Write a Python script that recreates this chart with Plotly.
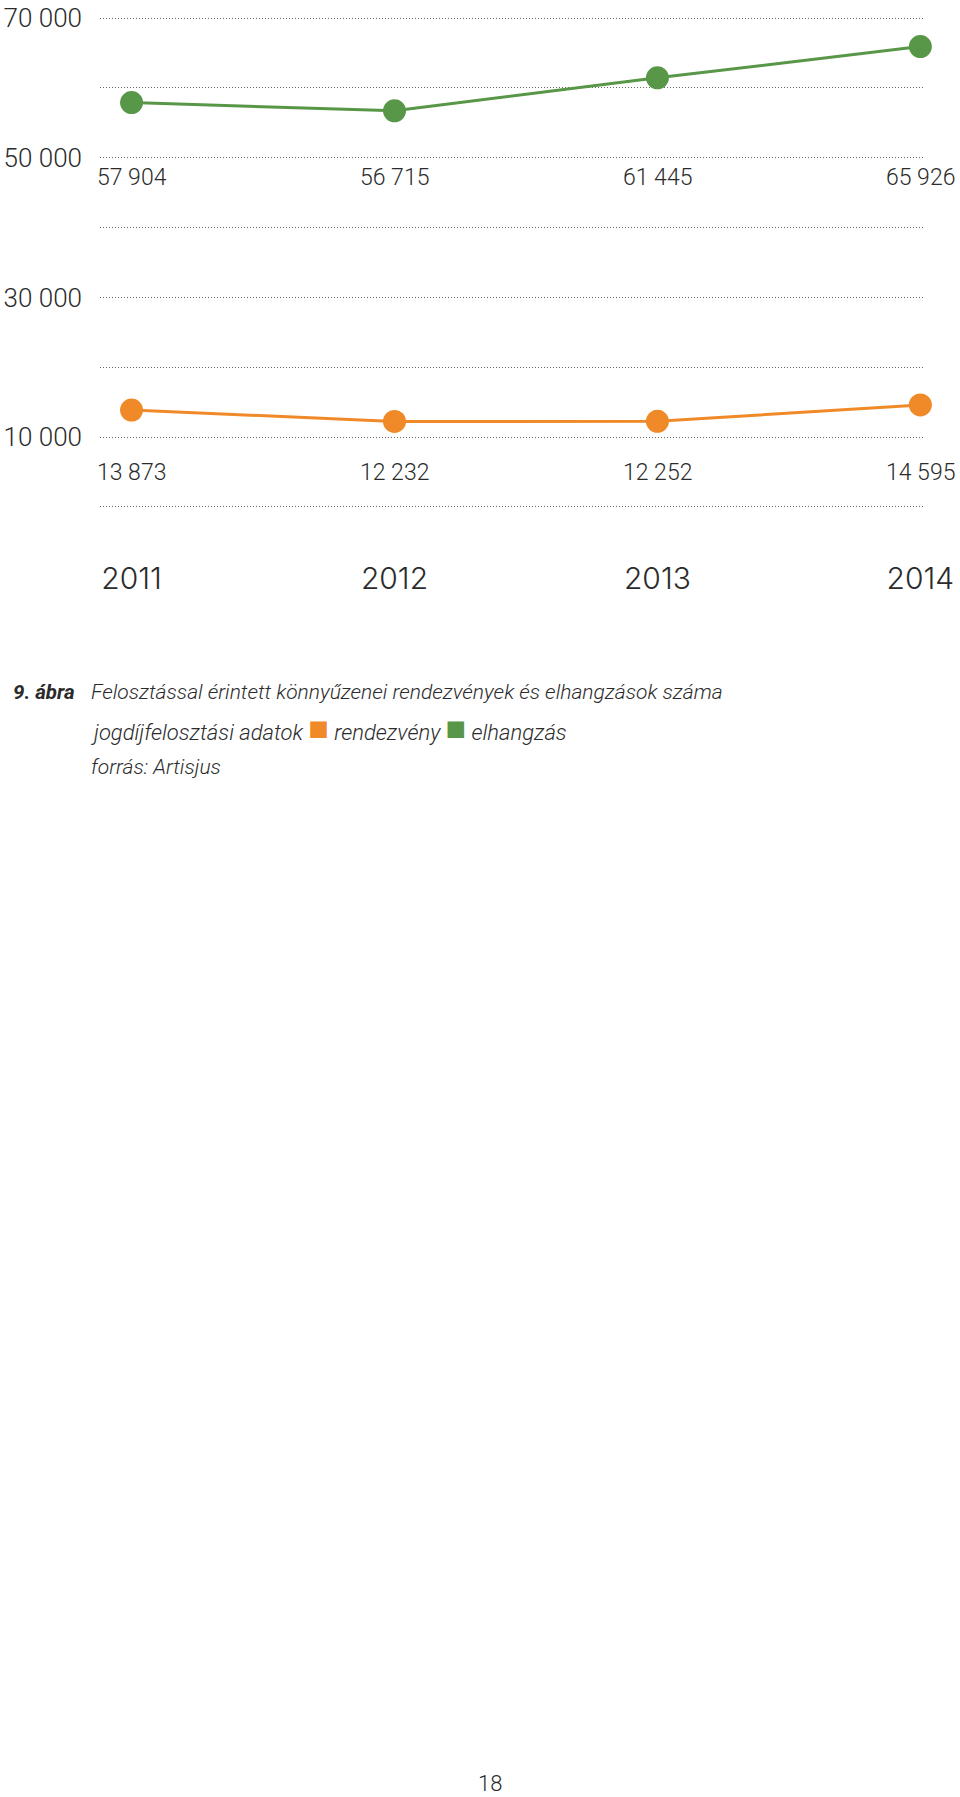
import plotly.graph_objects as go

years = ["2011", "2012", "2013", "2014"]
elhangzas = [57904, 56715, 61445, 65926]      # green series
rendezveny = [13873, 12232, 12252, 14595]     # orange series
grid_vals = [0, 10000, 20000, 30000, 40000, 50000, 60000, 70000]
grid_text = ["", "10 000", "", "30 000", "", "50 000", "", "70 000"]

GREEN = "#589648"
ORANGE = "#f08a28"
TXT = "#2b2b2b"


def fmt(v):
    return f"{v:,}".replace(",", " ")


fig = go.Figure()
fig.add_trace(go.Scatter(
    x=years, y=elhangzas, mode="lines+markers", name="elhangzás",
    line=dict(color=GREEN, width=3), marker=dict(color=GREEN, size=23),
    cliponaxis=False, hoverinfo="skip"))
fig.add_trace(go.Scatter(
    x=years, y=rendezveny, mode="lines+markers", name="rendezvény",
    line=dict(color=ORANGE, width=3), marker=dict(color=ORANGE, size=23),
    cliponaxis=False, hoverinfo="skip"))

lab_font = dict(family="Roboto", weight=300, size=23, color=TXT)
annotations = []
for i, v in enumerate(elhangzas):
    annotations.append(dict(x=i, y=50000, xref="x", yref="y", text=fmt(v),
                            showarrow=False, xanchor="center", yanchor="middle",
                            yshift=-20, font=lab_font))
for i, v in enumerate(rendezveny):
    annotations.append(dict(x=i, y=10000, xref="x", yref="y", text=fmt(v),
                            showarrow=False, xanchor="center", yanchor="middle",
                            yshift=-35, font=lab_font))

cap_font = dict(family="Roboto", size=21, color=TXT, style="italic", weight=300)
sq = "<span style='color:{c};font-family:DejaVu Sans;font-style:normal;font-size:34px'>■</span>"
annotations.append(dict(x=0, y=0, xref="paper", yref="paper", xanchor="left", yanchor="middle",
                        xshift=-89, yshift=-(694 - 511), text="<b>9. ábra</b>", showarrow=False,
                        font=dict(family="Roboto", size=20.5, color=TXT, style="italic", weight=700)))
annotations.append(dict(x=0, y=0, xref="paper", yref="paper", xanchor="left", yanchor="middle",
                        xshift=-11, yshift=-(694 - 511), showarrow=False, font=cap_font,
                        text="Felosztással érintett könnyűzenei rendezvények és elhangzások száma"))
annotations.append(dict(x=0, y=0, xref="paper", yref="paper", xanchor="left", yanchor="middle",
                        xshift=-11, yshift=-(730 - 511), showarrow=False,
                        font=dict(family="Roboto", size=22, color=TXT, style="italic", weight=300),
                        text=("jogdíjfelosztási adatok " + sq.format(c=ORANGE) + " rendezvény "
                              + sq.format(c=GREEN) + " elhangzás")))
annotations.append(dict(x=0, y=0, xref="paper", yref="paper", xanchor="left", yanchor="middle",
                        xshift=-11, yshift=-(769 - 511), showarrow=False, font=cap_font,
                        text="forrás: Artisjus"))
annotations.append(dict(x=0, y=0, xref="paper", yref="paper", xanchor="center", yanchor="middle",
                        xshift=390, yshift=-(1785 - 511), showarrow=False, text="18",
                        font=dict(family="Roboto", weight=300, size=22, color=TXT)))

fig.update_layout(
    template="none",
    width=960, height=1797,
    margin=dict(l=100, r=37, t=16, b=1288, pad=0, autoexpand=False),
    paper_bgcolor="white", plot_bgcolor="white",
    showlegend=False,
    annotations=annotations,
    xaxis=dict(type="category", range=[-0.12, 3.01], showgrid=False, zeroline=False,
               showline=False, ticks="", ticklabelstandoff=49, automargin=False,
               tickfont=dict(family="Inter", weight=300, size=30, color=TXT)),
    yaxis=dict(range=[-300, 70300], tickvals=grid_vals, ticktext=grid_text,
               showgrid=True, gridcolor="#666666", gridwidth=1, griddash="1px,2px",
               zeroline=False, showline=False, ticks="", ticklabelstandoff=17,
               automargin=False,
               tickfont=dict(family="Roboto", weight=300, size=26, color=TXT)),
)

fig.write_html("out.html")
